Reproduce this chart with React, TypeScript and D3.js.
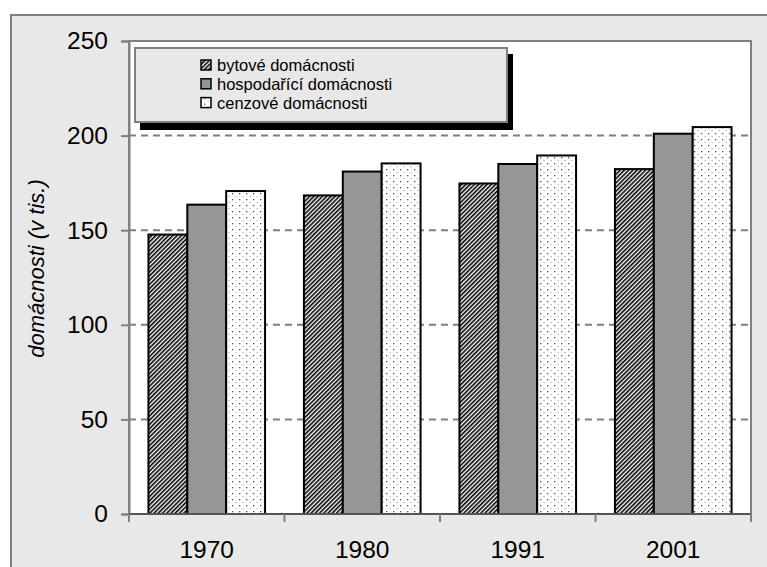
import React, { useEffect, useRef } from "react";
import * as d3 from "d3";

const years = ["1970", "1980", "1991", "2001"];
const seriesNames = ["bytové domácnosti", "hospodařící domácnosti", "cenzové domácnosti"];
const bytove = [147.7, 168.4, 174.7, 182.3];
const hospodarici = [163.5, 181.0, 185.0, 201.0];
const cenzove = [170.7, 185.3, 189.5, 204.5];
const yTicks = [0, 50, 100, 150, 200, 250];
const yTitle = "domácnosti (v tis.)";

const fills = ["url(#hatch)", "#969696", "url(#dots)"];
const font = "Liberation Sans, Arial, sans-serif";

export default function App() {
  const ref = useRef<SVGSVGElement>(null);

  useEffect(() => {
    const svg = d3.select(ref.current);
    svg.selectAll("*").remove();

    const defs = svg.append("defs");
    const hatch = defs
      .append("pattern")
      .attr("id", "hatch")
      .attr("patternUnits", "userSpaceOnUse")
      .attr("width", 3)
      .attr("height", 3)
      .attr("patternTransform", "rotate(45)");
    hatch.append("rect").attr("width", 3).attr("height", 3).attr("fill", "#fff");
    hatch.append("rect").attr("width", 1.6).attr("height", 3).attr("fill", "#000");

    const dots = defs
      .append("pattern")
      .attr("id", "dots")
      .attr("patternUnits", "userSpaceOnUse")
      .attr("width", 7)
      .attr("height", 6);
    dots.append("rect").attr("width", 7).attr("height", 6).attr("fill", "#fff");
    dots.append("rect").attr("x", 1).attr("y", 1).attr("width", 1.3).attr("height", 1.3).attr("fill", "#555");
    dots.append("rect").attr("x", 4.5).attr("y", 4).attr("width", 1.2).attr("height", 1).attr("fill", "#aaa");

    // outer frame
    svg.append("rect").attr("width", 767).attr("height", 567).attr("fill", "#fff");
    svg
      .append("rect")
      .attr("x", 11)
      .attr("y", 15)
      .attr("width", 780)
      .attr("height", 600)
      .attr("fill", "#e8e8e8")
      .attr("stroke", "#808080")
      .attr("stroke-width", 2);

    const left = 129,
      right = 751,
      top = 41,
      bottom = 514;

    const x = d3.scaleBand().domain(years).range([left, right]);
    const xs = d3
      .scaleBand()
      .domain(seriesNames)
      .range([0, x.bandwidth()])
      .paddingOuter(0.5);
    const y = d3.scaleLinear().domain([0, 250]).range([bottom, top]);

    // plot area
    svg
      .append("rect")
      .attr("x", left)
      .attr("y", top)
      .attr("width", right - left)
      .attr("height", bottom - top)
      .attr("fill", "#fff")
      .attr("stroke", "#808080")
      .attr("stroke-width", 2);

    // gridlines
    svg
      .append("g")
      .selectAll("line")
      .data(yTicks.filter((t) => t > 0 && t < 250))
      .enter()
      .append("line")
      .attr("x1", left)
      .attr("x2", right)
      .attr("y1", (d) => y(d))
      .attr("y2", (d) => y(d))
      .attr("stroke", "#808080")
      .attr("stroke-width", 2)
      .attr("stroke-dasharray", "7,5");

    // bars
    const allSeries = [bytove, hospodarici, cenzove];
    allSeries.forEach((vals, si) => {
      svg
        .append("g")
        .selectAll("rect")
        .data(vals)
        .enter()
        .append("rect")
        .attr("x", (d, i) => x(years[i])! + xs(seriesNames[si])!)
        .attr("y", (d) => y(d))
        .attr("width", xs.bandwidth())
        .attr("height", (d) => bottom - y(d))
        .attr("fill", fills[si])
        .attr("stroke", "#000")
        .attr("stroke-width", 2);
    });

    // axes
    const yAxis = svg
      .append("g")
      .attr("transform", `translate(${left},0)`)
      .call(d3.axisLeft(y).tickValues(yTicks).tickSize(8).tickPadding(13));
    yAxis.select(".domain").attr("stroke", "#808080").attr("stroke-width", 2);
    yAxis.selectAll(".tick line").attr("stroke", "#808080").attr("stroke-width", 2);
    yAxis
      .selectAll(".tick text")
      .attr("font-family", font)
      .attr("font-size", 24.5)
      .attr("fill", "#000");

    svg
      .append("line")
      .attr("x1", left)
      .attr("x2", right)
      .attr("y1", bottom)
      .attr("y2", bottom)
      .attr("stroke", "#555")
      .attr("stroke-width", 2);

    svg
      .append("g")
      .selectAll("line")
      .data([...years.map((d) => x(d)!), right])
      .enter()
      .append("line")
      .attr("x1", (d) => d)
      .attr("x2", (d) => d)
      .attr("y1", bottom)
      .attr("y2", bottom + 8)
      .attr("stroke", "#808080")
      .attr("stroke-width", 2);

    svg
      .append("g")
      .selectAll("text")
      .data(years)
      .enter()
      .append("text")
      .attr("x", (d) => x(d)! + x.bandwidth() / 2)
      .attr("y", 558)
      .attr("text-anchor", "middle")
      .attr("font-family", font)
      .attr("font-size", 24.5)
      .text((d) => d);

    svg
      .append("text")
      .attr("transform", `translate(44,${(top + bottom) / 2 - 9}) rotate(-90)`)
      .attr("text-anchor", "middle")
      .attr("font-family", font)
      .attr("font-style", "italic")
      .attr("font-size", 22)
      .text(yTitle);

    // legend
    const lg = svg.append("g");
    lg.append("rect").attr("x", 140).attr("y", 54).attr("width", 373).attr("height", 76).attr("fill", "#000");
    lg.append("rect")
      .attr("x", 135)
      .attr("y", 48)
      .attr("width", 372)
      .attr("height", 74)
      .attr("fill", "#e8e8e8")
      .attr("stroke", "#808080")
      .attr("stroke-width", 2);
    const rows = lg
      .selectAll("g.row")
      .data(seriesNames)
      .enter()
      .append("g")
      .attr("transform", (d, i) => `translate(0,${65 + i * 18.8})`);
    rows
      .append("rect")
      .attr("x", 201)
      .attr("y", -5)
      .attr("width", 10)
      .attr("height", 10)
      .attr("fill", (d, i) => fills[i])
      .attr("stroke", "#000")
      .attr("stroke-width", 1.5);
    rows
      .append("text")
      .attr("x", 217)
      .attr("y", 6)
      .attr("font-family", font)
      .attr("font-size", 16.5)
      .text((d) => d);
  }, []);

  return (
    <svg
      ref={ref}
      width={767}
      height={567}
      style={{ position: "absolute", left: 0, top: 0 }}
    ></svg>
  );
}
